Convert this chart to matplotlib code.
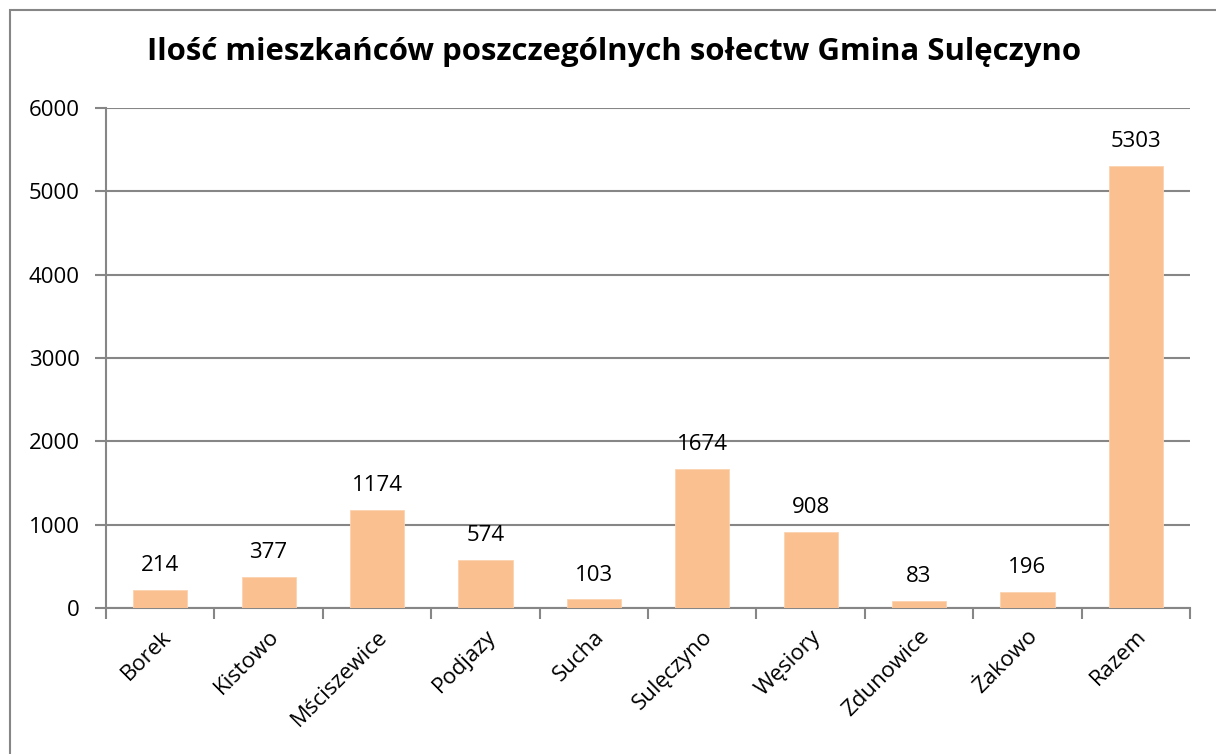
import matplotlib
matplotlib.use("Agg")
import matplotlib.pyplot as plt
import matplotlib.patches as mpatches

plt.rcParams['font.family'] = ['Open Sans', 'DejaVu Sans']

solectwa = ['Borek', 'Kistowo', 'Mściszewice', 'Podjazy', 'Sucha',
            'Sulęczyno', 'Węsiory', 'Zdunowice', 'Żakowo', 'Razem']
mieszkancy = [214, 377, 1174, 574, 103, 1674, 908, 83, 196, 5303]
yticks = [0, 1000, 2000, 3000, 4000, 5000, 6000]

grey = '#868686'

fig = plt.figure(figsize=(12.16, 7.54), dpi=100)
# chart frame (only top/left visible in reference)
fig.patches.append(mpatches.Rectangle((10 / 1216, -0.1), 1.2, (754 - 10) / 754 + 0.1,
                                      transform=fig.transFigure, fill=False,
                                      edgecolor=grey, linewidth=1.5))
ax = fig.add_axes([106 / 1216, 1 - 608 / 754, (1190 - 106) / 1216, 500 / 754])

x = list(range(len(solectwa)))
bars = ax.bar(x, mieszkancy, width=0.5, color='#FAC090', edgecolor='#FBD3B0',
              linewidth=0.6, zorder=3)
for xi, v in zip(x, mieszkancy):
    ax.annotate(str(v), (xi, v), xytext=(0, 10), textcoords='offset points',
                ha='center', va='bottom', fontsize=16)

ax.set_xlim(-0.5, len(solectwa) - 0.5)
ax.set_ylim(0, 6000)
ax.set_yticks(yticks)
ax.set_yticklabels([str(t) for t in yticks], fontsize=16)
ax.yaxis.grid(True, color=grey, linewidth=1.5, zorder=0)

ax.set_xticks([i - 0.5 for i in range(len(solectwa) + 1)])
ax.set_xticklabels([])
ax.set_xticks(x, minor=True)
ax.set_xticklabels(solectwa, minor=True, rotation=45, ha='right', va='top',
                   rotation_mode='anchor', fontsize=16)
ax.tick_params(axis='x', which='minor', length=0, pad=13)
ax.tick_params(axis='both', which='major', length=8, width=1.5, color=grey)
ax.tick_params(axis='y', pad=11)

for side in ['top', 'right']:
    ax.spines[side].set_visible(False)
for side in ['left', 'bottom']:
    ax.spines[side].set_color(grey)
    ax.spines[side].set_linewidth(1.5)

fig.text(614 / 1216, 1 - 52 / 754, 'Ilość mieszkańców poszczególnych sołectw Gmina Sulęczyno',
         ha='center', va='center', fontsize=22.4, fontweight='bold')

fig.savefig('out.png', dpi=100)
